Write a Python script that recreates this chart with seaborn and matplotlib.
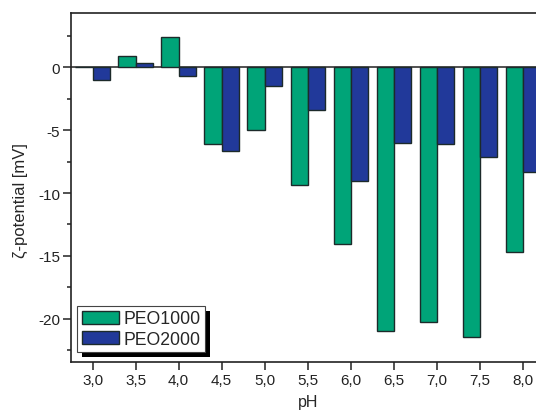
import matplotlib
matplotlib.use("Agg")
import matplotlib.pyplot as plt
import seaborn as sns
import pandas as pd
from matplotlib.patches import Rectangle
from matplotlib.ticker import MultipleLocator, FixedLocator

ph_labels = ["3,0", "3,5", "4,0", "4,5", "5,0", "5,5", "6,0", "6,5", "7,0", "7,5", "8,0"]
peo1000 = [0.0, 0.87, 2.38, -6.07, -4.98, -9.33, -14.05, -21.0, -20.25, -21.46, -14.66]
peo2000 = [-1.06, 0.32, -0.72, -6.63, -1.46, -3.39, -9.01, -5.99, -6.07, -7.1, -8.35]
series_names = ["PEO1000", "PEO2000"]
colors = ["#00A478", "#21399A"]

df = pd.DataFrame({
    "pH": ph_labels * 2,
    "zeta": peo1000 + peo2000,
    "sample": [series_names[0]] * len(ph_labels) + [series_names[1]] * len(ph_labels),
})

sns.set_style("ticks")
plt.rcParams["font.family"] = ["Liberation Sans", "DejaVu Sans"]
plt.rcParams["axes.unicode_minus"] = False

fig = plt.figure(figsize=(5.36, 4.14), dpi=100)
ax = fig.add_axes([71 / 536, 1 - 362.7 / 414, 473.5 / 536, 348.7 / 414])

sns.barplot(data=df, x="pH", y="zeta", hue="sample", palette=colors,
            order=ph_labels, hue_order=series_names, width=0.8,
            edgecolor="#1c2a2a", linewidth=1.0, ax=ax, errorbar=None,
            saturation=1)

ax.set_xlim(-0.5, 10.5)
ax.set_ylim(-23.4, 4.3)
ax.axhline(0, color="#333333", lw=1.2, zorder=0.5)

ax.yaxis.set_major_locator(FixedLocator([-20, -15, -10, -5, 0]))
ax.set_yticklabels(["-20", "-15", "-10", "-5", "0"])
ax.yaxis.set_minor_locator(MultipleLocator(2.5))

for s in ["left", "bottom", "top", "right"]:
    ax.spines[s].set_color("#222222")
    ax.spines[s].set_linewidth(1.2)

ax.tick_params(axis="both", which="major", direction="out", length=5.5, width=1.1,
               labelsize=11, colors="#222222", labelcolor="#222222", pad=2.5)
ax.tick_params(axis="y", which="minor", direction="out", length=3, width=1.1, colors="#222222")
ax.tick_params(axis="x", which="minor", bottom=False)

ax.set_xlabel("pH", fontsize=11.5)
ax.set_ylabel("ζ-potential [mV]", fontsize=12)
ax.xaxis.set_label_coords((308 - 71) / 473.5, -(403 - 362.7) / 348.7)
ax.yaxis.set_label_coords(-(71 - 20) / 473.5, (362.7 - 201) / 348.7)
ax.xaxis.label.set_verticalalignment("center")
ax.yaxis.label.set_verticalalignment("center")

leg = ax.legend(loc="lower left", bbox_to_anchor=(0.013, 0.027), borderaxespad=0,
                fontsize=12.7, frameon=True, fancybox=False, framealpha=1,
                edgecolor="#444444", handlelength=2.15, handleheight=0.74,
                handletextpad=0.25, borderpad=0.25, labelspacing=0.2)
leg.get_frame().set_linewidth(0.8)
leg.set_zorder(6)

fig.canvas.draw()
bb = leg.get_window_extent()
shadow = Rectangle((bb.x0 + 5, bb.y0 - 5), bb.width, bb.height, transform=None,
                   facecolor="black", edgecolor="none", zorder=5.5)
ax.add_artist(shadow)

fig.savefig("out.png", dpi=100)
